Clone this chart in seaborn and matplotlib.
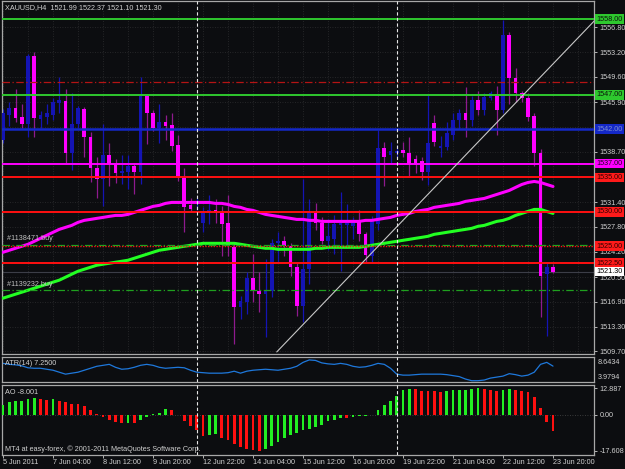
import matplotlib
matplotlib.use("Agg")
import matplotlib.pyplot as plt
import matplotlib.transforms as mtransforms
import numpy as np
import pandas as pd
import seaborn as sns

# ---------------- data ----------------
bar_index = list(range(89))
opens = [1540.5, 1544.1, 1545.1, 1543.8, 1542.7, 1552.6, 1543.5, 1543.8, 1544.1, 1545.8,
         1546.1, 1538.6, 1542.7, 1545.0, 1540.8, 1536.4, 1534.7, 1538.2, 1536.9, 1535.6,
         1535.8, 1536.7, 1535.8, 1546.8, 1544.4, 1542.2, 1543.0, 1542.6, 1539.7, 1535.0,
         1531.0, 1531.2, 1528.3, 1529.9, 1530.3, 1529.8, 1528.4, 1524.8, 1516.1, 1516.9,
         1520.3, 1518.5, 1518.0, 1518.4, 1525.4, 1525.8, 1525.0, 1522.0, 1516.3, 1521.6,
         1529.8, 1528.4, 1525.7, 1526.0, 1528.0, 1528.1, 1527.9, 1528.6, 1526.7, 1523.6,
         1528.2, 1539.3, 1538.3, 1538.6, 1539.0, 1538.5, 1537.6, 1537.4, 1535.8, 1542.9,
         1539.2, 1539.4, 1541.2, 1543.4, 1544.4, 1543.4, 1546.3, 1544.8, 1546.6, 1547.1,
         1544.8, 1555.7, 1549.4, 1547.3, 1546.6, 1543.9, 1538.6, 1520.9, 1521.99]
highs = [1545.0, 1546.0, 1547.9, 1545.6, 1552.9, 1553.3, 1544.6, 1545.6, 1546.6, 1549.6,
         1547.8, 1547.3, 1545.4, 1545.3, 1541.6, 1537.9, 1542.7, 1540.0, 1537.7, 1538.3,
         1538.3, 1536.9, 1549.6, 1547.0, 1544.8, 1545.6, 1544.0, 1544.3, 1541.1, 1536.4,
         1532.0, 1532.0, 1530.7, 1532.5, 1531.8, 1530.9, 1532.4, 1525.6, 1517.7, 1521.2,
         1523.8, 1521.2, 1523.1, 1526.0, 1527.0, 1526.5, 1525.4, 1522.6, 1534.7, 1531.9,
         1531.3, 1529.2, 1528.9, 1529.5, 1532.9, 1531.1, 1529.2, 1530.2, 1527.0, 1529.4,
         1541.9, 1540.2, 1540.2, 1539.7, 1540.2, 1540.8, 1538.2, 1538.0, 1547.0, 1544.0,
         1541.0, 1543.0, 1544.3, 1545.0, 1548.2, 1546.9, 1547.6, 1547.2, 1547.6, 1548.3,
         1557.9, 1556.2, 1550.9, 1547.6, 1547.2, 1544.4, 1539.1, 1522.6, 1522.37]
lows = [1540.0, 1542.4, 1543.0, 1542.2, 1540.8, 1540.9, 1542.2, 1542.8, 1543.4, 1544.4,
        1536.9, 1536.0, 1542.2, 1538.0, 1534.3, 1532.0, 1530.8, 1533.7, 1534.2, 1534.0,
        1533.3, 1532.6, 1534.0, 1539.8, 1541.7, 1540.0, 1540.5, 1538.9, 1534.4, 1527.0,
        1530.0, 1530.3, 1527.0, 1528.2, 1528.4, 1523.5, 1523.5, 1510.7, 1514.4, 1515.1,
        1516.9, 1515.4, 1511.8, 1517.6, 1522.6, 1523.5, 1520.6, 1514.8, 1514.0, 1519.5,
        1527.4, 1525.3, 1524.5, 1523.8, 1521.4, 1525.0, 1526.0, 1525.7, 1522.6, 1522.7,
        1527.4, 1533.7, 1537.0, 1537.8, 1538.0, 1535.0, 1535.7, 1534.6, 1533.9, 1539.5,
        1537.9, 1539.0, 1540.5, 1542.0, 1540.8, 1542.5, 1544.1, 1544.1, 1546.2, 1541.2,
        1544.4, 1545.6, 1545.9, 1545.9, 1543.2, 1536.6, 1514.7, 1511.9, 1521.10]
closes = [1544.4, 1545.1, 1543.7, 1542.7, 1552.7, 1543.7, 1544.1, 1544.4, 1546.0, 1546.3,
          1538.6, 1542.7, 1545.1, 1540.8, 1536.4, 1534.7, 1538.2, 1536.9, 1535.7, 1535.9,
          1536.6, 1535.8, 1546.8, 1544.4, 1542.2, 1543.0, 1542.5, 1539.6, 1535.0, 1530.7,
          1530.4, 1531.6, 1530.0, 1530.3, 1529.8, 1528.2, 1525.2, 1516.1, 1517.0, 1520.3,
          1518.4, 1518.0, 1518.4, 1525.5, 1525.8, 1525.0, 1522.0, 1516.3, 1521.6, 1530.0,
          1528.4, 1525.7, 1526.4, 1528.2, 1528.3, 1528.4, 1528.6, 1526.7, 1523.7, 1528.9,
          1539.3, 1538.0, 1538.9, 1538.8, 1538.5, 1537.0, 1536.9, 1535.8, 1540.0, 1540.2,
          1539.6, 1541.5, 1543.4, 1544.4, 1543.4, 1546.3, 1544.8, 1546.7, 1547.3, 1544.8,
          1555.7, 1549.5, 1547.3, 1546.6, 1543.8, 1538.6, 1520.6, 1521.9, 1521.30]

ma_magenta = [1524.10, 1524.39, 1524.68, 1524.97, 1525.26, 1525.69, 1526.13, 1526.56, 1527.00, 1527.43,
              1527.72, 1528.01, 1528.45, 1528.74, 1528.88, 1529.03, 1529.17, 1529.32, 1529.46, 1529.46,
              1529.61, 1529.90, 1530.19, 1530.48, 1530.77, 1530.92, 1531.21, 1531.35, 1531.35, 1531.35,
              1531.35, 1531.35, 1531.35, 1531.35, 1531.21, 1531.21, 1531.06, 1530.77, 1530.63, 1530.33,
              1530.19, 1529.90, 1529.61, 1529.46, 1529.32, 1529.17, 1529.03, 1528.88, 1528.88, 1528.74,
              1528.74, 1528.59, 1528.59, 1528.59, 1528.59, 1528.59, 1528.59, 1528.59, 1528.74, 1528.74,
              1528.88, 1529.03, 1529.17, 1529.46, 1529.61, 1529.75, 1530.04, 1530.19, 1530.33, 1530.63,
              1530.77, 1530.92, 1531.06, 1531.21, 1531.50, 1531.64, 1531.79, 1531.93, 1532.22, 1532.51,
              1532.80, 1533.09, 1533.53, 1533.96, 1534.25, 1534.40, 1534.25, 1533.96, 1533.67]
ma_green = [1517.42, 1517.71, 1518.00, 1518.29, 1518.58, 1518.87, 1519.16, 1519.46, 1519.75, 1520.04,
            1520.47, 1520.91, 1521.34, 1521.63, 1521.92, 1522.21, 1522.36, 1522.50, 1522.65, 1522.79,
            1522.94, 1523.23, 1523.52, 1523.81, 1524.10, 1524.39, 1524.53, 1524.68, 1524.82, 1524.97,
            1525.11, 1525.26, 1525.40, 1525.40, 1525.40, 1525.40, 1525.40, 1525.40, 1525.26, 1525.11,
            1524.97, 1524.82, 1524.68, 1524.68, 1524.53, 1524.53, 1524.53, 1524.53, 1524.53, 1524.53,
            1524.68, 1524.68, 1524.82, 1524.82, 1524.82, 1524.82, 1524.82, 1524.82, 1524.97, 1525.11,
            1525.26, 1525.40, 1525.55, 1525.69, 1525.84, 1525.98, 1526.13, 1526.27, 1526.42, 1526.71,
            1526.85, 1527.00, 1527.14, 1527.29, 1527.43, 1527.58, 1527.87, 1528.01, 1528.30, 1528.59,
            1528.74, 1529.03, 1529.46, 1529.75, 1530.04, 1530.33, 1530.33, 1530.04, 1529.75]

atr_values = [7.87, 7.65, 7.54, 7.32, 6.88, 6.77, 6.77, 6.55, 6.33, 5.89,
              5.45, 5.67, 5.89, 6.33, 6.77, 7.21, 7.43, 7.65, 6.99, 6.55,
              6.66, 6.99, 7.43, 7.65, 7.43, 6.99, 6.77, 6.88, 6.99, 6.88,
              6.33, 5.89, 5.78, 5.67, 5.67, 5.67, 5.78, 6.11, 5.67, 6.11,
              6.33, 6.44, 6.55, 6.44, 6.33, 6.55, 6.77, 7.21, 8.09, 8.64,
              8.53, 7.98, 7.76, 7.65, 7.87, 7.65, 7.21, 6.99, 7.10, 7.43,
              7.87, 7.65, 6.77, 5.45, 5.23, 5.23, 5.34, 5.45, 5.45, 5.45,
              5.45, 5.34, 5.12, 4.90, 4.35, 3.98, 3.98, 4.13, 4.57, 4.79,
              5.01, 5.56, 5.34, 5.01, 5.23, 5.89, 7.65, 8.09, 7.25]

ao_values = [4.48, 6.08, 6.40, 6.88, 7.68, 8.16, 7.68, 7.36, 7.52, 6.88,
             6.08, 5.28, 5.20, 4.00, 2.08, 0.48, -1.12, -2.72, -3.52, -4.10,
             -4.02, -4.06, -2.72, -1.12, 0.48, 0.96, 2.56, 2.08, -0.32, -3.04,
             -5.60, -7.52, -10.40, -9.92, -9.44, -11.52, -12.32, -14.24, -15.84, -16.80,
             -17.44, -17.608, -16.80, -15.20, -13.44, -11.52, -10.08, -8.80, -7.52, -7.04,
             -6.24, -5.12, -3.20, -2.72, -1.44, -1.60, -1.12, -0.64, -0.48, -0.32,
             2.08, 4.48, 6.40, 9.28, 12.16, 12.48, 12.32, 11.68, 11.52, 11.36,
             11.20, 11.36, 11.84, 12.00, 12.16, 12.48, 12.887, 12.48, 12.16, 11.68,
             12.00, 12.48, 12.00, 11.36, 11.20, 8.48, 3.20, -3.52, -8.001]

time_label_bars = [0, 8, 16, 24, 32, 40, 48, 56, 64, 72, 80, 88]
time_labels = ["5 Jun 2011", "7 Jun 04:00", "8 Jun 12:00", "9 Jun 20:00", "12 Jun 22:00",
               "14 Jun 04:00", "15 Jun 12:00", "16 Jun 20:00", "19 Jun 22:00",
               "21 Jun 04:00", "22 Jun 12:00", "23 Jun 20:00"]
price_ticks = [1556.80, 1553.20, 1549.60, 1545.90, 1542.30, 1538.70, 1535.00,
               1531.40, 1527.80, 1524.20, 1520.50, 1516.90, 1513.30, 1509.70]
hidden_tick_labels = [1542.30, 1535.00]
separator_bars = [31, 63]
trend_bars = [43.8, 94.6]
trend_prices = [1509.6, 1557.75]
level_green = [1558.00, 1547.00]
level_red = [1535.00, 1530.00, 1522.50]
level_red_dotted = [1525.00]
level_blue = [1542.00]
level_magenta = [1537.00]
level_stop = [1548.90]
order_prices = [1525.20, 1518.60]
order_names = ["#1138471 buy", "#1139232 buy"]
last_price = 1521.30
symbol_title = "XAUUSD,H4  1521.99 1522.37 1521.10 1521.30"
ao_ticks = [12.887, 0.0, -17.608]
ao_tick_labels = ["12.887", "0.00", "-17.608"]
atr_marks = [8.6434, 3.9794]
atr_title = "ATR(14) 7.2500"
ao_title = "AO -8.001"
copyright_text = "MT4 at easy-forex, \u00a9 2001-2011 MetaQuotes Software Corp."

# ---------------- style ----------------
BG = "#0c0d10"
FG = "#d0d0d0"
FRAME = "#a8a8a8"
BULL = "#1414b4"
BEAR = "#ff00ff"
BEAR_WICK = "#8e1a8e"
FS = 5.2

sns.set_style("dark", rc={"axes.facecolor": BG, "figure.facecolor": BG,
                          "axes.edgecolor": FRAME, "axes.grid": False,
                          "xtick.color": FG, "ytick.color": FG, "text.color": FG})
plt.rcParams["font.family"] = ["Liberation Sans", "DejaVu Sans"]

W, H = 625, 469
fig = plt.figure(figsize=(W / 100, H / 100), dpi=100)


def rect(x0, y0, x1, y1):
    return [x0 / W, 1 - y1 / H, (x1 - x0) / W, (y1 - y0) / H]


ax = fig.add_axes(rect(2, 1, 594, 354))
ax_atr = fig.add_axes(rect(2, 356.5, 594, 382))
ax_ao = fig.add_axes(rect(2, 384.5, 594, 455))

XMIN, XMAX = -0.16, 94.56
for a in (ax, ax_atr, ax_ao):
    a.set_facecolor(BG)
    a.set_xlim(XMIN, XMAX)
    for s in a.spines.values():
        s.set_color(FRAME)
        s.set_linewidth(0.9)
    a.tick_params(axis="x", bottom=False, labelbottom=False)
    a.yaxis.tick_right()
    a.tick_params(axis="y", colors=FG, labelsize=FS, length=2.5, width=0.6, pad=1.5)

# ---------------- main chart ----------------
df = pd.DataFrame({"i": bar_index, "o": opens, "h": highs, "l": lows, "c": closes})
ax.set_ylim(1509.30, 1560.65)

for g in range(0, 95, 4):
    ax.axvline(g, color="#2e2e30", lw=0.6, ls=(0, (1, 2)), zorder=0)
for t in price_ticks:
    ax.axhline(t, color="#2e2e30", lw=0.6, ls=(0, (1, 2)), zorder=0)

bull = df[df.c >= df.o]
bear = df[df.c < df.o]
ax.vlines(bull.i, bull.l, bull.h, color=BULL, lw=0.9, zorder=2)
ax.vlines(bear.i, bear.l, bear.h, color=BEAR_WICK, lw=0.9, zorder=2)
ax.bar(bull.i, np.maximum(bull.c - bull.o, 0.15), bottom=bull.o, width=0.62,
       color=BULL, zorder=3, linewidth=0)
ax.bar(bear.i, np.maximum(bear.o - bear.c, 0.15), bottom=bear.c, width=0.62,
       color=BEAR, zorder=3, linewidth=0)

sns.lineplot(x=bar_index, y=ma_magenta, ax=ax, color="#ff00ff", linewidth=2.2, zorder=4)
sns.lineplot(x=bar_index, y=ma_green, ax=ax, color="#22ff22", linewidth=2.2, zorder=4)

for lv in level_green:
    ax.axhline(lv, color="#2ec82e", lw=1.4, zorder=5)
for lv in level_red:
    ax.axhline(lv, color="#ff1010", lw=1.4, zorder=5)
for lv in level_red_dotted:
    ax.axhline(lv, color="#ff1010", lw=1.0, ls=(0, (1, 1)), zorder=5)
for lv in level_blue:
    ax.axhline(lv, color="#1428c8", lw=1.8, zorder=5)
for lv in level_magenta:
    ax.axhline(lv, color="#ff00ff", lw=1.4, zorder=5)
for lv in level_stop:
    ax.axhline(lv, color="#b41414", lw=0.9, ls=(0, (6, 2, 1, 2)), zorder=5)
for lv in order_prices:
    ax.axhline(lv, color="#1fa01f", lw=0.9, ls=(0, (6, 2, 1, 2)), zorder=5)
ax.axhline(last_price, color="#3c3e48", lw=0.8, zorder=1)

ax.plot(trend_bars, trend_prices, color="#c8c8c8", lw=0.8, zorder=6)

for sb in separator_bars:
    for a in (ax, ax_atr, ax_ao):
        a.axvline(sb, color="#e6e6e6", lw=0.8, ls=(0, (3, 2)), zorder=7)

ax.set_yticks(price_ticks)
ax.set_yticklabels(["" if t in hidden_tick_labels else f"{t:.2f}" for t in price_ticks])

ax.text(0.005, 0.992, symbol_title, transform=ax.transAxes, ha="left", va="top",
        fontsize=FS, color=FG, zorder=8)
for p, name in zip(order_prices, order_names):
    ax.text(0.6, p + 0.35, name, ha="left", va="bottom", fontsize=FS,
            color="#c0c0c0", zorder=8)

blend = mtransforms.blended_transform_factory(ax.transAxes, ax.transData)


def price_box(level, fc, tc):
    ax.text(1.004, level, f"{level:.2f}", transform=blend, ha="left", va="center",
            fontsize=FS, color=tc, clip_on=False, zorder=10,
            bbox=dict(boxstyle="square,pad=0.18", fc=fc, ec="none"))


for lv in level_green:
    price_box(lv, "#2ec82e", "#0a140a")
for lv in level_blue:
    price_box(lv, "#1428c8", "#8090d0")
for lv in level_magenta:
    price_box(lv, "#ff00ff", "#200020")
for lv in level_red + level_red_dotted:
    price_box(lv, "#ff1a1a", "#300000")
price_box(last_price, "#ffffff", "#000000")

# ---------------- ATR ----------------
ax_atr.set_ylim(3.69, 9.41)
sns.lineplot(x=bar_index, y=atr_values, ax=ax_atr, color="#1e78dc", linewidth=0.9)
ax_atr.set_yticks([])
ax_atr.text(1.006, 0.77, f"{atr_marks[0]:.4f}", transform=ax_atr.transAxes, ha="left",
            va="center", fontsize=FS, color=FG, clip_on=False)
ax_atr.text(1.006, 0.19, f"{atr_marks[1]:.4f}", transform=ax_atr.transAxes, ha="left",
            va="center", fontsize=FS, color=FG, clip_on=False)
ax_atr.text(0.005, 0.71, atr_title, transform=ax_atr.transAxes, ha="left", va="center",
            fontsize=FS, color=FG)
ax_atr.set_ylabel("")

# ---------------- AO ----------------
ao = np.array(ao_values)
prev = np.concatenate([[ao[0] - 1], ao[:-1]])
ao_colors = np.where(ao > prev, "#22ee22", "#ff1010")
ax_ao.set_ylim(-19.74, 14.70)
ax_ao.axhline(0, color="#4a4a4a", lw=0.6, ls=(0, (1, 2)), zorder=0)
ax_ao.bar(bar_index, ao, width=0.42, color=ao_colors, linewidth=0, zorder=3)
ax_ao.set_yticks(ao_ticks)
ax_ao.set_yticklabels(ao_tick_labels)
ax_ao.text(0.005, 0.887, ao_title, transform=ax_ao.transAxes, ha="left", va="center",
           fontsize=FS, color=FG)
ax_ao.text(0.005, 0.085, copyright_text, transform=ax_ao.transAxes, ha="left",
           va="center", fontsize=FS, color=FG)
ax_ao.set_xticks(time_label_bars)
ax_ao.set_xticklabels(time_labels)
ax_ao.tick_params(axis="x", bottom=True, labelbottom=True, labelsize=FS, colors=FG,
                  length=2, width=0.6, pad=1.0)
for lab in ax_ao.get_xticklabels():
    lab.set_ha("left")
ax_ao.set_ylabel("")

fig.savefig("out.png", dpi=100, facecolor=BG)
